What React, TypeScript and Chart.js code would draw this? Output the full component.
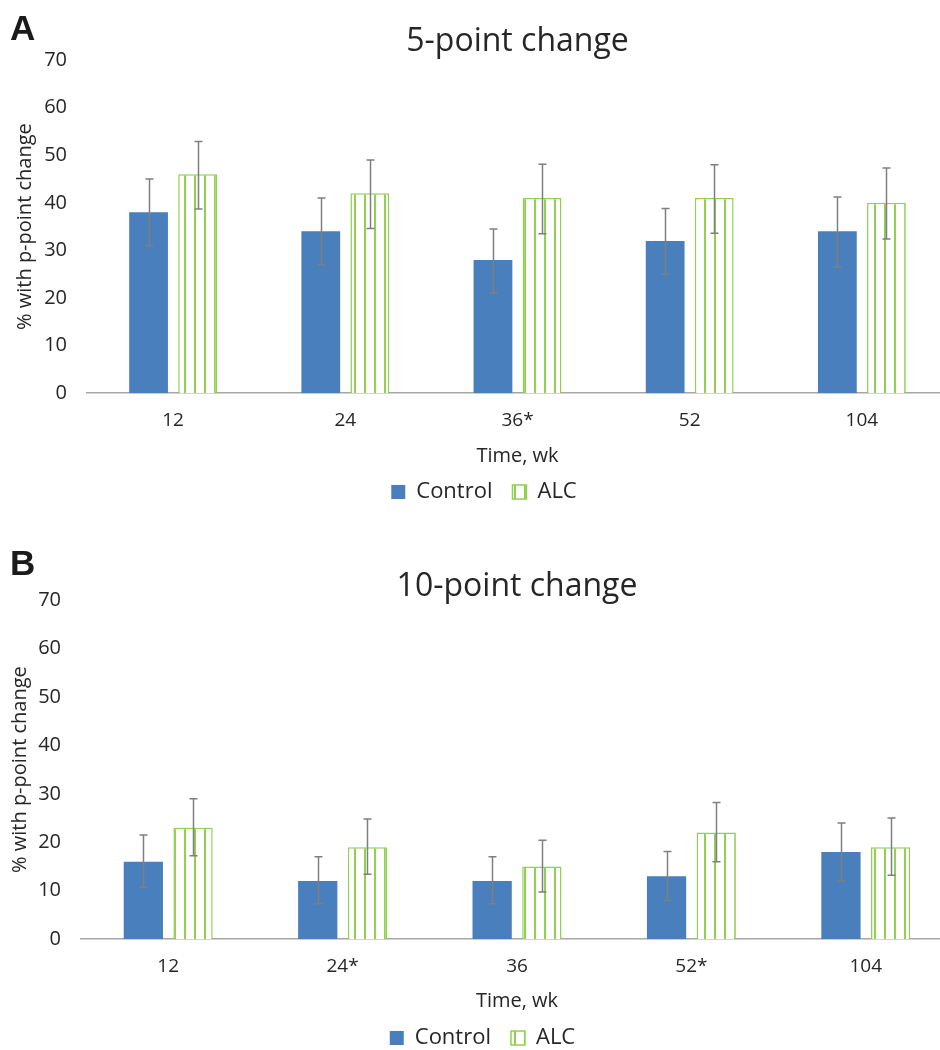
import React, { useEffect, useRef } from "react";
import { Chart, registerables } from "chart.js";

Chart.register(...registerables);

// ---------- DATA ----------
const weeksA = ["12", "24", "36*", "52", "104"];
const controlA = [38, 34, 28, 32, 34];
const controlA_low = [31, 27, 21, 25, 26.5];
const controlA_high = [45, 41, 34.5, 38.8, 41.2];
const alcA = [46, 42, 41, 41, 40];
const alcA_low = [38.7, 34.6, 33.5, 33.6, 32.4];
const alcA_high = [52.9, 49, 48.1, 48, 47.3];

const weeksB = ["12", "24*", "36", "52*", "104"];
const controlB = [16, 12, 12, 13, 18];
const controlB_low = [10.7, 7.3, 7.3, 8, 12];
const controlB_high = [21.5, 17, 17, 18.1, 24];
const alcB = [23, 19, 15, 22, 19];
const alcB_low = [17.2, 13.4, 9.75, 16, 13.2];
const alcB_high = [29, 24.8, 20.4, 28.2, 25];

const yTicks = [0, 10, 20, 30, 40, 50, 60, 70];

const FONT = "'Open Sans', 'Noto Sans', sans-serif";
const TEXT = "#262626";
const BLUE = "#4A7FBE";
const GREEN = "#92D050";

function makeStripePattern(): CanvasPattern | string {
  const c = document.createElement("canvas");
  c.width = 10;
  c.height = 10;
  const g = c.getContext("2d");
  if (!g) return "#ffffff";
  g.fillStyle = "#ffffff";
  g.fillRect(0, 0, 10, 10);
  g.fillStyle = GREEN;
  g.fillRect(4, 0, 2, 10);
  const p = g.createPattern(c, "repeat");
  return p || "#ffffff";
}

const errorBarPlugin = {
  id: "errorBars",
  afterDatasetsDraw(chart: any) {
    const ctx = chart.ctx;
    const y = chart.scales.y;
    chart.data.datasets.forEach((ds: any, i: number) => {
      const meta = chart.getDatasetMeta(i);
      meta.data.forEach((bar: any, j: number) => {
        const top = y.getPixelForValue(ds.errHigh[j]);
        const bot = y.getPixelForValue(ds.errLow[j]);
        const x = Math.round(bar.x) + 0.5;
        ctx.save();
        ctx.strokeStyle = "#7F7F7F";
        ctx.lineWidth = 1.5;
        ctx.beginPath();
        ctx.moveTo(x, top);
        ctx.lineTo(x, bot);
        ctx.moveTo(x - 4, top);
        ctx.lineTo(x + 4, top);
        ctx.moveTo(x - 4, bot);
        ctx.lineTo(x + 4, bot);
        ctx.stroke();
        ctx.restore();
      });
    });
  },
};

// Title centred over the plot area (as in the reference)
const panelTitlePlugin = {
  id: "panelTitle",
  afterDraw(chart: any, _args: any, opts: any) {
    const ctx = chart.ctx;
    const a = chart.chartArea;
    ctx.save();
    ctx.fillStyle = TEXT;
    ctx.font = `${opts.size}px ${FONT}`;
    ctx.textAlign = "center";
    ctx.textBaseline = "alphabetic";
    ctx.fillText(opts.text, (a.left + a.right) / 2, opts.baseline);
    ctx.restore();
  },
};

// Nudge the legend to the reference position
const legendShiftPlugin = {
  id: "legendShift",
  afterLayout(chart: any, _args: any, opts: any) {
    const lg = chart.legend;
    if (!lg) return;
    lg.left += opts.dx;
    lg.right += opts.dx;
    lg.top += opts.dy;
    lg.bottom += opts.dy;
  },
};

type PanelProps = {
  title: string;
  labels: string[];
  control: number[];
  controlLow: number[];
  controlHigh: number[];
  alc: number[];
  alcLow: number[];
  alcHigh: number[];
  width: number;
  height: number;
  yAxisWidth: number;
  padTop: number;
  yTitlePad: number;
  xTitlePadTop: number;
  legendDx: number;
  legendDy: number;
};

function Panel(p: PanelProps) {
  const ref = useRef<HTMLCanvasElement | null>(null);
  useEffect(() => {
    if (!ref.current) return;
    const pattern = makeStripePattern();
    const chart = new Chart(ref.current, {
      type: "bar",
      data: {
        labels: p.labels,
        datasets: [
          {
            label: "Control",
            data: p.control,
            backgroundColor: BLUE,
            borderWidth: 0,
            categoryPercentage: 0.57,
            barPercentage: 0.79,
            errLow: p.controlLow,
            errHigh: p.controlHigh,
          } as any,
          {
            label: "ALC",
            data: p.alc,
            backgroundColor: pattern as any,
            borderColor: GREEN,
            borderWidth: 1.5,
            categoryPercentage: 0.57,
            barPercentage: 0.79,
            errLow: p.alcLow,
            errHigh: p.alcHigh,
          } as any,
        ],
      },
      options: {
        responsive: false,
        animation: false,
        layout: { padding: { left: 0, right: 0, top: p.padTop, bottom: 7 } },
        plugins: {
          title: { display: false },
          panelTitle: { text: p.title, size: 32, baseline: 51 },
          legendShift: { dx: p.legendDx, dy: p.legendDy },
          legend: {
            display: true,
            position: "bottom",
            labels: {
              color: TEXT,
              font: { family: FONT, size: 22 },
              boxWidth: 14,
              boxHeight: 14,
              padding: 20,
            },
          },
          tooltip: { enabled: false },
        } as any,
        scales: {
          x: {
            grid: { display: false, drawTicks: false },
            border: { display: true, color: "#A6A6A6", width: 1.5 },
            ticks: { color: TEXT, font: { family: FONT, size: 19 }, padding: 16 },
            title: {
              display: true,
              text: "Time, wk",
              color: TEXT,
              font: { family: FONT, size: 20 },
              padding: { top: p.xTitlePadTop, bottom: 3 },
            },
          },
          y: {
            min: 0,
            max: 70,
            afterBuildTicks: (scale: any) => {
              scale.ticks = yTicks.map((v) => ({ value: v }));
            },
            afterFit: (scale: any) => {
              scale.width = p.yAxisWidth;
            },
            grid: { display: false, drawTicks: false },
            border: { display: false },
            ticks: { color: TEXT, font: { family: FONT, size: 20 }, padding: 20 },
            title: {
              display: true,
              text: "% with p-point change",
              color: TEXT,
              font: { family: FONT, size: 20 },
              padding: { top: p.yTitlePad, bottom: 0 },
            },
          },
        },
      },
      plugins: [errorBarPlugin, panelTitlePlugin, legendShiftPlugin],
    });
    return () => chart.destroy();
  }, []);
  return <canvas ref={ref} width={p.width} height={p.height} style={{ display: "block" }} />;
}

const letterStyle: React.CSSProperties = {
  position: "absolute",
  left: 10,
  font: "bold 35px 'Liberation Sans', Arial, sans-serif",
  lineHeight: "35px",
  color: "#1a1a1a",
};

export default function App() {
  return (
    <div
      style={{
        position: "absolute",
        left: 0,
        top: 0,
        width: 940,
        height: 1050,
        overflow: "hidden",
        background: "#ffffff",
      }}
    >
      <div style={{ position: "absolute", left: 0, top: 0 }}>
        <Panel
          title="5-point change"
          labels={weeksA}
          control={controlA}
          controlLow={controlA_low}
          controlHigh={controlA_high}
          alc={alcA}
          alcLow={alcA_low}
          alcHigh={alcA_high}
          width={948}
          height={530}
          yAxisWidth={87}
          padTop={60}
          yTitlePad={13}
          xTitlePadTop={-4}
          legendDx={10}
          legendDy={-10}
        />
      </div>
      <div style={{ position: "absolute", left: 0, top: 545 }}>
        <Panel
          title="10-point change"
          labels={weeksB}
          control={controlB}
          controlLow={controlB_low}
          controlHigh={controlB_high}
          alc={alcB}
          alcLow={alcB_low}
          alcHigh={alcB_high}
          width={953}
          height={530}
          yAxisWidth={81}
          padTop={55}
          yTitlePad={8}
          xTitlePadTop={-5}
          legendDx={6}
          legendDy={-9}
        />
      </div>
      <div style={{ ...letterStyle, top: 10 }}>A</div>
      <div style={{ ...letterStyle, top: 545 }}>B</div>
    </div>
  );
}
